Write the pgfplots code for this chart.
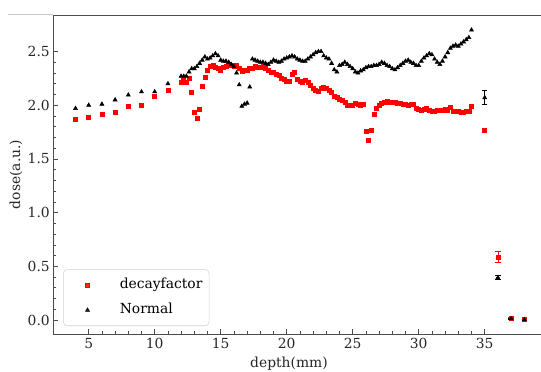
\documentclass[border=0pt]{standalone}
\usepackage{pgfplots}
\pgfplotsset{compat=1.18}
\usepackage{pgfplotstable}
\usepackage{fontspec}
\setmainfont{DejaVu Serif}
\newcommand{\fs}{\fontsize{10.4}{12.5}\selectfont}

\pgfplotstableread{
x y
4 1.87
5 1.89
6 1.92
7 1.93
8 1.99
9 2.00
10 2.08
11 2.14
12.0 2.21
12.2 2.23
12.4 2.21
12.6 2.25
12.8 2.12
13.0 1.93
13.2 1.88
13.4 1.96
13.6 2.18
13.8 2.26
14.0 2.33
14.2 2.36
14.4 2.37
14.6 2.35
14.8 2.34
15.0 2.33
15.2 2.35
15.4 2.36
15.6 2.38
15.8 2.37
16.0 2.36
16.2 2.37
16.4 2.34
16.6 2.32
16.8 2.33
17.0 2.33
17.2 2.34
17.4 2.34
17.6 2.36
17.8 2.35
18.0 2.35
18.2 2.36
18.4 2.34
18.6 2.33
18.8 2.31
19.0 2.31
19.2 2.29
19.4 2.28
19.6 2.25
19.8 2.24
20.0 2.22
20.2 2.22
20.4 2.29
20.6 2.31
20.8 2.24
21.0 2.22
21.2 2.21
21.4 2.23
21.6 2.21
21.8 2.19
22.0 2.16
22.2 2.14
22.4 2.13
22.6 2.16
22.8 2.17
23.0 2.16
23.2 2.14
23.4 2.12
23.6 2.08
23.8 2.07
24.0 2.06
24.2 2.05
24.4 2.03
24.6 2.00
24.8 2.00
25.0 2.00
25.2 2.02
25.4 2.01
25.6 2.00
25.8 2.01
26.0 1.76
26.2 1.67
26.4 1.77
26.6 1.92
26.8 1.97
27.0 2.00
27.2 2.02
27.4 2.03
27.6 2.04
27.8 2.03
28.0 2.03
28.2 2.03
28.4 2.02
28.6 2.02
28.8 2.01
29.0 2.01
29.2 2.00
29.4 2.01
29.6 2.01
29.8 1.97
30.0 1.96
30.2 1.95
30.4 1.96
30.6 1.97
30.8 1.95
31.0 1.94
31.2 1.94
31.4 1.95
31.6 1.95
31.8 1.95
32.0 1.96
32.2 1.95
32.4 1.98
32.6 1.94
32.8 1.94
33.0 1.94
33.2 1.93
33.4 1.93
33.6 1.94
33.8 1.94
34.0 1.99
}\decay

\pgfplotstableread{
x y
4 1.97
5 2.00
6 2.01
7 2.05
8 2.095
9 2.125
10 2.125
11 2.20
12.0 2.27
12.2 2.27
12.4 2.27
12.6 2.31
12.8 2.34
13.0 2.34
13.2 2.36
13.4 2.39
13.6 2.42
13.8 2.45
14.0 2.43
14.2 2.44
14.4 2.46
14.6 2.48
14.8 2.46
15.0 2.42
15.2 2.41
15.4 2.41
15.6 2.40
15.8 2.38
16.0 2.36
16.2 2.30
16.4 2.19
16.6 1.99
16.8 2.01
17.0 2.02
17.2 2.17
17.4 2.43
17.6 2.42
17.8 2.41
18.0 2.40
18.2 2.40
18.4 2.39
18.6 2.38
18.8 2.40
19.0 2.42
19.2 2.41
19.4 2.40
19.6 2.41
19.8 2.43
20.0 2.44
20.2 2.45
20.4 2.46
20.6 2.45
20.8 2.43
21.0 2.42
21.2 2.41
21.4 2.41
21.6 2.43
21.8 2.45
22.0 2.47
22.2 2.49
22.4 2.50
22.6 2.50
22.8 2.46
23.0 2.44
23.2 2.43
23.4 2.39
23.6 2.33
23.8 2.31
24.0 2.37
24.2 2.38
24.4 2.40
24.6 2.38
24.8 2.36
25.0 2.34
25.2 2.31
25.4 2.30
25.6 2.32
25.8 2.33
26.0 2.35
26.2 2.36
26.4 2.36
26.6 2.37
26.8 2.37
27.0 2.38
27.2 2.40
27.4 2.39
27.6 2.37
27.8 2.36
28.0 2.34
28.2 2.33
28.4 2.35
28.6 2.37
28.8 2.39
29.0 2.41
29.2 2.42
29.4 2.40
29.6 2.39
29.8 2.37
30.0 2.37
30.2 2.41
30.4 2.44
30.6 2.46
30.8 2.48
31.0 2.47
31.2 2.43
31.4 2.40
31.6 2.38
31.8 2.41
32.0 2.45
32.2 2.49
32.4 2.53
32.6 2.55
32.8 2.56
33.0 2.55
33.2 2.57
33.4 2.59
33.6 2.61
33.8 2.63
34.0 2.70
}\normal

\pgfplotstableread{
x y e
35 1.77 0.015
36 0.585 0.05
37 0.015 0.005
38 0.006 0.004
}\decaytail

\pgfplotstableread{
x y e
35 2.07 0.065
36 0.395 0.02
37 0.012 0.004
38 0.004 0.003
}\normaltail

\begin{document}
\begin{tikzpicture}
\useasboundingbox (-39.75pt,-27.75pt) rectangle (366pt,250.5pt);
\draw[black!22, line width=0.8pt] (-33.75pt,239.4pt) -- (0pt,239.4pt);
\begin{axis}[
  at={(0pt,0pt)}, anchor=south west,
  scale only axis,
  width=366pt, height=239.25pt,
  xmin=2.295, xmax=39.265,
  ymin=-0.130, ymax=2.840,
  axis x line*=box, axis y line*=left,
  axis line style={-, black!70, line width=0.6pt},
  xtick={5,10,...,35},
  ytick={0,0.5,1,1.5,2,2.5},
  minor x tick num=4,
  minor y tick num=4,
  xtick pos=left, ytick pos=left,
  tick align=inside,
  major tick length=3.75pt,
  minor tick length=2pt,
  every tick/.style={black!70, line width=0.5pt},
  /pgf/number format/assume math mode=true,
  ticklabel style={font=\fs, text=black!85},
  yticklabel style={/pgf/number format/fixed, /pgf/number format/fixed zerofill, /pgf/number format/precision=1, inner xsep=2.2pt},
  xticklabel style={/pgf/number format/fixed, /pgf/number format/precision=0, inner ysep=3.2pt},
  xlabel={depth(mm)},
  ylabel={dose(a.u.)},
  xlabel style={font=\fs, text=black!85, at={(axis description cs:0.4836,-0.0924)}, anchor=center},
  ylabel style={font=\fs, text=black!85, at={(axis description cs:-0.0758,0.5)}, anchor=center},
  legend cell align=left,
  legend style={at={(axis description cs:0.0205,0.025)}, anchor=south west,
    draw=black!18, rounded corners=3pt, fill=white, fill opacity=0.85, text opacity=1,
    inner xsep=5pt, inner ysep=6.7pt, row sep=8.75pt, column sep=11pt,
    font=\fs,
    nodes={inner sep=0pt, text height=7.6pt, text depth=2.4pt}},
  legend image code/.code={\path (0pt,0pt) (26pt,0pt); \draw[#1] plot coordinates {(13pt,0pt)};},
]
\addplot[only marks, mark=square*, mark size=1.5pt, color=red, mark options={draw=red, fill=red}] table[x=x,y=y] {\decay};
\addlegendentry{decayfactor}
\addplot[only marks, mark=triangle*, mark size=1.75pt, color=black, mark options={draw=black, fill=black}] table[x=x,y=y] {\normal};
\addlegendentry{Normal}
\addplot[forget plot, only marks, mark=square*, mark size=1.5pt, color=red, mark options={draw=red, fill=red},
  error bars/.cd, y dir=both, y explicit,
  error bar style={red, line width=0.6pt},
  error mark options={rotate=90, mark size=2pt, red, line width=0.6pt}]
  table[x=x, y=y, y error=e] {\decaytail};
\addplot[forget plot, only marks, mark=triangle*, mark size=1.75pt, color=black, mark options={draw=black, fill=black},
  error bars/.cd, y dir=both, y explicit,
  error bar style={black, line width=0.6pt},
  error mark options={rotate=90, mark size=2pt, black, line width=0.6pt}]
  table[x=x, y=y, y error=e] {\normaltail};
\end{axis}
\end{tikzpicture}
\end{document}
